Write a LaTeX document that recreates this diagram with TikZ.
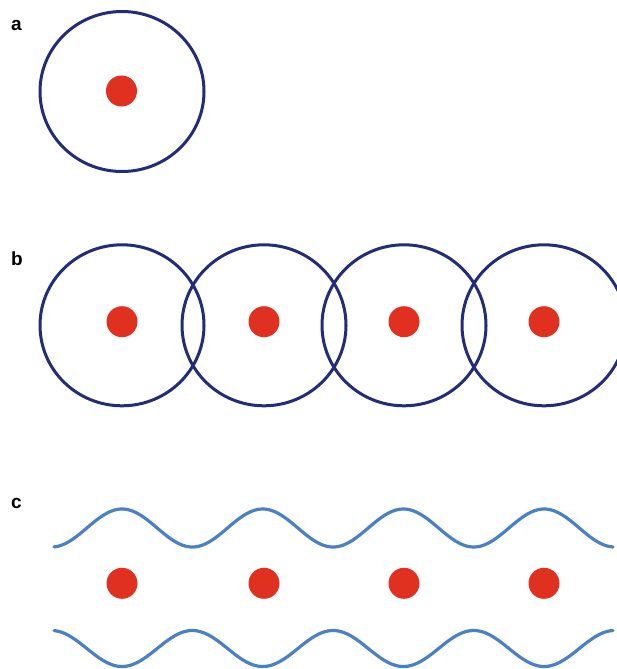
\documentclass[tikz,border=0pt]{standalone}
\usepackage{fontspec}
\setmainfont{Liberation Sans}
\definecolor{navy}{RGB}{34,44,120}
\definecolor{dotred}{RGB}{224,48,32}
\definecolor{waveblue}{RGB}{74,128,196}
\begin{document}
\begin{tikzpicture}[x=1pt,y=-1pt,
  dot/.style={circle,fill=dotred,draw=none,minimum size=31pt,inner sep=0pt},
  ring/.style={draw=navy,line width=3pt},
  wave/.style={draw=waveblue,line width=3.2pt,line cap=round},
  lab/.style={anchor=base west,inner sep=0pt,font=\fontsize{19}{19}\selectfont\bfseries}]
\useasboundingbox (0,0) rectangle (617,669);
\clip (0,0) rectangle (617,669);
% labels
\node[lab] (la) at (11,30.7) {a};
\node[lab] (lb) at (11,265) {b};
\node[lab] (lc) at (11,508.7) {c};
% panel a
\draw[ring] (122,91.5) ellipse [x radius=82, y radius=80];
\node[dot] (a1) at (121.5,91) {};
% panel b
\foreach \cx/\n in {122/1,264/2,404/3,544/4}{
  \draw[ring] (\cx,325.3) ellipse [x radius=82, y radius=80.5];
  \node[dot] (b\n) at (\cx,321.7) {};
}
% panel c
\foreach \cx/\n in {122/1,264/2,404/3,544/4}{
  \node[dot] (c\n) at (\cx,583.3) {};
}
\draw[wave] plot[domain=54:613,samples=240,smooth] (\x,{528-19*cos(2.5586*(\x-122))});
\draw[wave] plot[domain=54:613,samples=240,smooth] (\x,{648.5+18*cos(2.5586*(\x-122))});
\end{tikzpicture}
\end{document}
